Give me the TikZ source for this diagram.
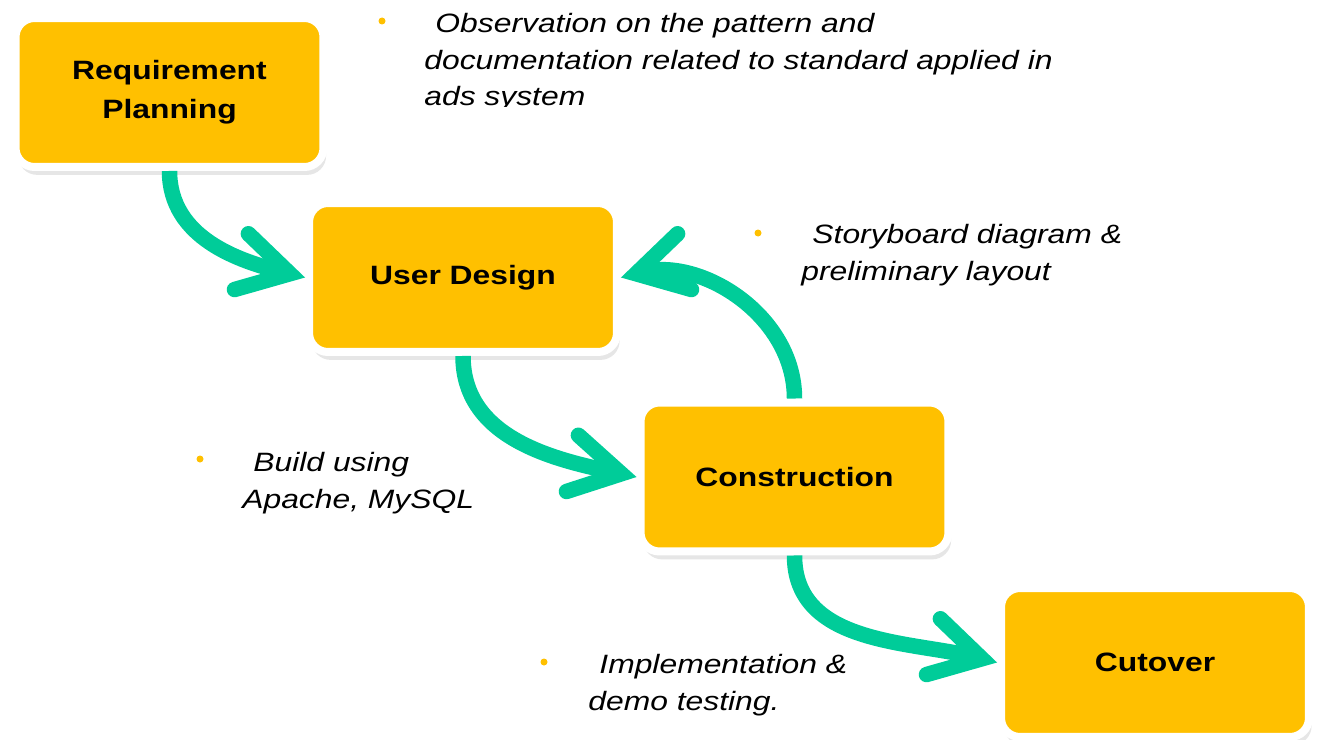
\documentclass[tikz,border=0pt]{standalone}
\usepackage{fontspec}
\setmainfont[FakeStretch=1.2]{Liberation Sans}
\usepackage{tikz}
\usetikzlibrary{shapes, calc, arrows.meta, shadows}

\definecolor{boxorange}{RGB}{255,192,0}
\definecolor{flowgreen}{RGB}{0,204,153}

\begin{document}
\begin{tikzpicture}[x=0.02cm, y=0.02cm,
	phase/.style={rectangle, draw=white, line width=0.16cm, fill=boxorange,
		rounded corners=0.38cm, minimum width=6.16cm, minimum height=2.98cm,
		align=center, font=\fontsize{15.1pt}{22pt}\selectfont\bfseries,
		drop shadow={shadow xshift=1.5pt, shadow yshift=-4.5pt, opacity=0.2}},
	flow/.style={draw=flowgreen, line width=0.31cm,
		-{Straight Barb[length=1cm, width=1.15cm, line cap=round, line join=miter]}},
	bullet/.style={circle, fill=boxorange, inner sep=0pt, minimum size=0.14cm},
	note/.style={anchor=base west, inner sep=0pt, align=left,
		font=\fontsize{15.1pt}{21pt}\selectfont\itshape}]
	\def \indent {6.3pt}

	\useasboundingbox (0,0) rectangle (1322,-740);

	% phases
	\node[phase] (req)  at (169.5,-92.5)
		{Requirement\\Planning};
	\node[phase] (user) at (463,-277.5)
		{User Design};
	\node[phase] (cons) at (794.5,-477)
		{Construction};
	\node[phase] (cut)  at (1155,-662.5)
		{Cutover};

	% flow
	\draw[flow] (req.south)  to[out=-90, in=166] (user.west);
	\draw[flow] (user.south) to[out=-90, in=168] (cons.west);
	\draw[flow] (cons.north) to[out=90, in=14]   (user.east);
	\draw[flow] (cons.south) to[out=-90, in=166] (cut.west);

	% notes (base = last line)
	\node[bullet] (obsdot) at (382,-21) {};
	\begin{scope}
		\clip (0,0) rectangle (1322,-107);
		\node[note] (obs) at (424,-106)
			{\hspace*{\indent}Observation on the pattern and\\documentation related to standard applied in\\ads system};
	\end{scope}
	\node[bullet] (storydot) at (758,-233) {};
	\node[note] (story) at (801,-280)
		{\hspace*{\indent}Storyboard diagram \&\\preliminary layout};
	\node[bullet] (builddot) at (200,-459) {};
	\node[note] (build) at (242,-508)
		{\hspace*{\indent}Build using\\Apache, MySQL};
	\node[bullet] (impldot) at (544,-662) {};
	\node[note] (impl) at (588,-710)
		{\hspace*{\indent}Implementation \&\\demo testing.};
\end{tikzpicture}
\end{document}
